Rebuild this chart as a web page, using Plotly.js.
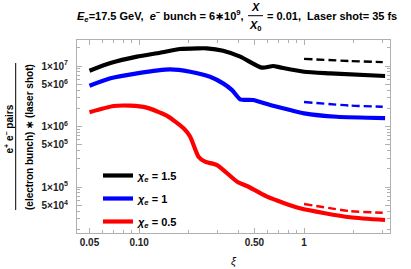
<!DOCTYPE html>
<html>
<head>
<meta charset="utf-8">
<script src="https://cdn.plot.ly/plotly-3.0.1.min.js"></script>
<style>html,body{margin:0;padding:0;background:#fff;}#chart{width:411px;height:269px;}</style>
</head>
<body>
<div id="chart"></div>
<script>
// ---- data ----
const blackX = [0.05, 0.067, 0.097, 0.134, 0.177, 0.225, 0.257, 0.323, 0.41, 0.554, 0.649, 0.715, 1.0, 1.44, 3.1];
const blackY = [8.36e6, 1.12e7, 1.43e7, 1.66e7, 1.91e7, 1.96e7, 1.96e7, 1.79e7, 1.43e7, 9.4e6, 1.0e7, 9.5e6, 8.05e6, 7.57e6, 6.84e6];
const blueX  = [0.05, 0.067, 0.097, 0.154, 0.204, 0.269, 0.323, 0.366, 0.41, 0.49, 0.622, 0.823, 1.0, 1.58, 3.1];
const blueY  = [4.72e6, 6.27e6, 7.57e6, 8.81e6, 8.05e6, 6.65e6, 5.17e6, 4.0e6, 2.82e6, 2.74e6, 2.27e6, 1.87e6, 1.65e6, 1.45e6, 1.38e6];
const redX   = [0.05, 0.07, 0.088, 0.111, 0.147, 0.186, 0.204, 0.229, 0.251, 0.297, 0.393, 0.451, 0.597, 0.946, 1.9, 3.1];
const redY   = [1.72e6, 2.18e6, 2.21e6, 2.05e6, 1.51e6, 9.34e5, 6.78e5, 3.17e5, 2.62e5, 2.31e5, 1.22e5, 1.04e5, 6.92e4, 4.45e4, 3.16e4, 2.85e4];
const blackDashX = [1.0, 1.9, 3.0];
const blackDashY = [1.31e7, 1.21e7, 1.16e7];
const blueDashX  = [1.0, 1.9, 3.0];
const blueDashY  = [2.54e6, 2.22e6, 2.12e6];
const redDashX   = [1.0, 1.9, 3.0];
const redDashY   = [5.24e4, 4.0e4, 3.76e4];
const seriesNames = ['<i>χ</i><sub><i>e</i></sub> = 1.5', '<i>χ</i><sub><i>e</i></sub> = 1', '<i>χ</i><sub><i>e</i></sub> = 0.5'];
const xTickVals = [0.05, 0.1, 0.5, 1];
const xTickText = ['0.05', '0.10', '0.50', '1'];
const xMinorVals = [0.06, 0.07, 0.08, 0.09, 0.2, 0.3, 0.4, 0.6, 0.7, 0.8, 0.9, 2, 3];
const yTickVals = [5e4, 1e5, 5e5, 1e6, 5e6, 1e7];
const yTickText = ['5×10<sup>4</sup>', '1×10<sup>5</sup>', '5×10<sup>5</sup>', '1×10<sup>6</sup>', '5×10<sup>6</sup>', '1×10<sup>7</sup>'];
const yMinorVals = [2e4,3e4,4e4,6e4,7e4,8e4,9e4,2e5,3e5,4e5,6e5,7e5,8e5,9e5,2e6,3e6,4e6,6e6,7e6,8e6,9e6,2e7];

// ---- layout geometry ----
const W = 411, H = 269;
const M = {l: 77, r: 21, t: 40, b: 36};
const PW = W - M.l - M.r, PH = H - M.t - M.b;
const px2x = p => (p - M.l) / PW;
const px2y = p => (H - M.b - p) / PH;

const FONT = 'Liberation Sans, Arial, sans-serif';
const frame = '#b0b0b0';

const solid = (x, y, c, name, g) => ({x, y, type: 'scatter', mode: 'lines', name, legendgroup: g,
  line: {color: c, width: 4.2, shape: 'spline', smoothing: 0.6}, hoverinfo: 'skip'});
const dashed = (x, y, c) => ({x, y, type: 'scatter', mode: 'lines', showlegend: false,
  line: {color: c, width: 2.4, dash: '8px,4px', shape: 'spline', smoothing: 0.6}, hoverinfo: 'skip'});

const data = [
  solid(blackX, blackY, '#000000', seriesNames[0], 'a'),
  solid(blueX, blueY, '#0000ff', seriesNames[1], 'b'),
  solid(redX, redY, '#ff0000', seriesNames[2], 'c'),
  dashed(blackDashX, blackDashY, '#000000'),
  dashed(blueDashX, blueDashY, '#0000ff'),
  dashed(redDashX, redDashY, '#ff0000')
];

const tfont = {family: FONT, size: 11, color: '#000', weight: 'bold'};
const annotations = [
  {text: '<i>E</i><sub><i>e</i></sub>=17.5 GeV,\u00a0\u00a0<i>e</i><sup>−</sup> bunch = 6∗10<sup>9</sup>,', x: px2x(246), y: px2y(16), xanchor: 'right', yanchor: 'middle'},
  {text: '<i>X</i>', x: px2x(255.5), y: px2y(6.5), xanchor: 'center', yanchor: 'middle'},
  {text: '<i>X</i><sub>0</sub>', x: px2x(255.5), y: px2y(26), xanchor: 'center', yanchor: 'middle'},
  {text: '= 0.01,\u00a0\u00a0Laser shot= 35 fs', x: px2x(265), y: px2y(16), xanchor: 'left', yanchor: 'middle'},
  {text: 'e<sup>+</sup> e<sup>−</sup> pairs', x: px2x(8.5), y: px2y(129), xanchor: 'center', yanchor: 'middle', textangle: -90, font: {family: FONT, size: 10, color: '#000', weight: 'bold'}},
  {text: '(electron bunch) ∗ (laser shot)', x: px2x(29), y: px2y(137), xanchor: 'center', yanchor: 'middle', textangle: -90, font: {family: FONT, size: 10, color: '#000', weight: 'bold'}}
].map(a => Object.assign({xref: 'paper', yref: 'paper', showarrow: false, font: tfont}, a));

const shapes = [
  {type: 'line', xref: 'paper', yref: 'paper', x0: px2x(248), x1: px2x(263), y0: px2y(15.7), y1: px2y(15.7), line: {color: '#000', width: 1}},
  {type: 'line', xref: 'paper', yref: 'paper', x0: px2x(15.7), x1: px2x(15.7), y0: px2y(63), y1: px2y(210), line: {color: '#000', width: 1}}
];

const axisCommon = {
  type: 'log', showgrid: false, zeroline: false, showline: true, linecolor: frame, linewidth: 1,
  mirror: 'ticks', ticks: 'inside', tickcolor: frame, ticklen: 5, tickwidth: 1,
  tickmode: 'array', tickfont: {family: FONT, size: 10, color: '#222', weight: 'bold'}
};

const layout = {
  width: W, height: H, margin: M, paper_bgcolor: '#fff', plot_bgcolor: '#fff',
  showlegend: true,
  legend: {x: px2x(98), y: px2y(161), xanchor: 'left', yanchor: 'top', bgcolor: 'rgba(0,0,0,0)',
    font: {family: FONT, size: 11, color: '#000', weight: 'bold'}, traceorder: 'grouped', tracegroupgap: 4,
    itemwidth: 30},
  xaxis: Object.assign({}, axisCommon, {
    range: [Math.log10(0.042), Math.log10(3.32)], tickvals: xTickVals, ticktext: xTickText,
    minor: {tickvals: xMinorVals, ticks: 'inside', ticklen: 3, tickcolor: frame},
    title: {text: '<i>ξ</i>', font: {family: FONT, size: 11, color: '#000'}, standoff: 10}
  }),
  yaxis: Object.assign({}, axisCommon, {
    range: [4.24, 7.43], tickvals: yTickVals, ticktext: yTickText, ticklabelstandoff: 6,
    minor: {tickvals: yMinorVals, ticks: 'inside', ticklen: 3, tickcolor: frame}
  }),
  annotations, shapes
};

Plotly.newPlot('chart', data, layout, {staticPlot: true, displayModeBar: false});
</script>
</body>
</html>
